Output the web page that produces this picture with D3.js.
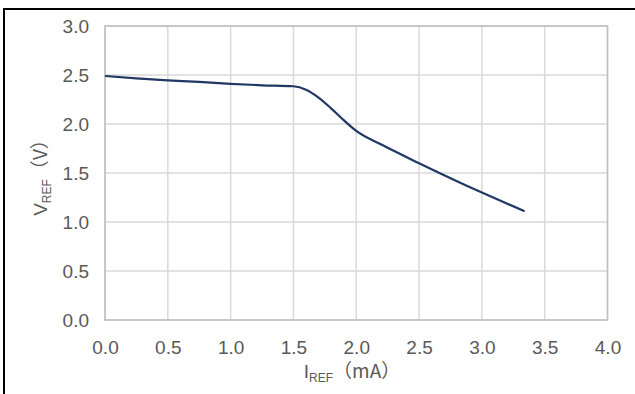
<!DOCTYPE html>
<html><head><meta charset="utf-8">
<script src="https://cdn.jsdelivr.net/npm/d3@7"></script>
<style>html,body{margin:0;padding:0;background:#fff;}svg{display:block;}</style>
</head><body>
<svg id="c" width="635" height="394"></svg>
<script>
const xTicks = [0,0.5,1.0,1.5,2.0,2.5,3.0,3.5,4.0];
const yTicks = [0,0.5,1.0,1.5,2.0,2.5,3.0];
const iRef = [0,0.25,0.5,0.75,1.0,1.25,1.5,1.6,1.7,1.8,1.9,2.0,2.2,2.5,3.0,3.34];
const vRef = [2.49,2.465,2.445,2.43,2.41,2.395,2.385,2.35,2.27,2.16,2.04,1.93,1.79,1.60,1.30,1.11];

const svg = d3.select("#c");
const W=635,H=394;
const m={left:105,right:607.5,top:26,bottom:320};
const x=d3.scaleLinear().domain([0,4]).range([m.left,m.right]);
const y=d3.scaleLinear().domain([0,3]).range([m.bottom,m.top]);
const font="'Liberation Sans', Arial, sans-serif";
const cjk="'Noto Sans CJK SC', sans-serif";
const tc="#595959";

// outer frame (left/top visible)
svg.append("line").attr("x1",4).attr("x2",4).attr("y1",8).attr("y2",H).attr("stroke","#000").attr("stroke-width",2);
svg.append("line").attr("x1",4).attr("x2",W).attr("y1",9).attr("y2",9).attr("stroke","#000").attr("stroke-width",2);

// grid
const g=svg.append("g");
g.selectAll(".gx").data(xTicks).join("line").attr("x1",d=>x(d)).attr("x2",d=>x(d)).attr("y1",m.top).attr("y2",m.bottom).attr("stroke","#d9d9d9").attr("stroke-width",1.5);
g.selectAll(".gy").data(yTicks).join("line").attr("y1",d=>y(d)).attr("y2",d=>y(d)).attr("x1",m.left).attr("x2",m.right).attr("stroke","#d9d9d9").attr("stroke-width",1.5);
g.append("rect").attr("x",m.left).attr("y",m.top).attr("width",m.right-m.left).attr("height",m.bottom-m.top).attr("fill","none").attr("stroke","#bfbfbf").attr("stroke-width",1.5);

// axes via d3
const ax=d3.axisBottom(x).tickValues(xTicks).tickFormat(d3.format(".1f")).tickSize(0);
const xa=svg.append("g").attr("transform",`translate(0,${m.bottom})`).call(ax);
const ay=d3.axisLeft(y).tickValues(yTicks).tickFormat(d3.format(".1f")).tickSize(0).tickPadding(16);
const ya=svg.append("g").attr("transform",`translate(${m.left},0)`).call(ay);
[xa,ya].forEach(a=>{a.select(".domain").remove();a.selectAll("text").attr("fill",tc).style("font-family",font).style("font-size","19px");});
xa.selectAll("text").attr("y",34).attr("dy",0);
ya.selectAll("text").attr("dy","0.35em");

// line
const line=d3.line().x((d,i)=>x(iRef[i])).y(d=>y(d)).curve(d3.curveMonotoneX);
svg.append("path").datum(vRef).attr("d",line).attr("fill","none").attr("stroke","#1f3864").attr("stroke-width",2.2);

// titles
const xt=svg.append("text").attr("x",352).attr("y",378).attr("text-anchor","middle").attr("fill",tc).style("font-family",font).style("font-size","19px");
xt.append("tspan").text("I");
xt.append("tspan").attr("dy",4).style("font-size","12px").text("REF");
xt.append("tspan").attr("dy",-4).style("font-family",cjk).style("font-size","19px").text("（mA）");

const yt=svg.append("text").attr("transform",`translate(47,${(m.top+m.bottom)/2}) rotate(-90)`).attr("text-anchor","middle").attr("fill",tc).style("font-family",font).style("font-size","19px");
yt.append("tspan").text("V");
yt.append("tspan").attr("dy",4).style("font-size","12px").text("REF");
yt.append("tspan").attr("dy",-4).style("font-family",cjk).style("font-size","19px").text("（V）");
</script>
</body></html>
